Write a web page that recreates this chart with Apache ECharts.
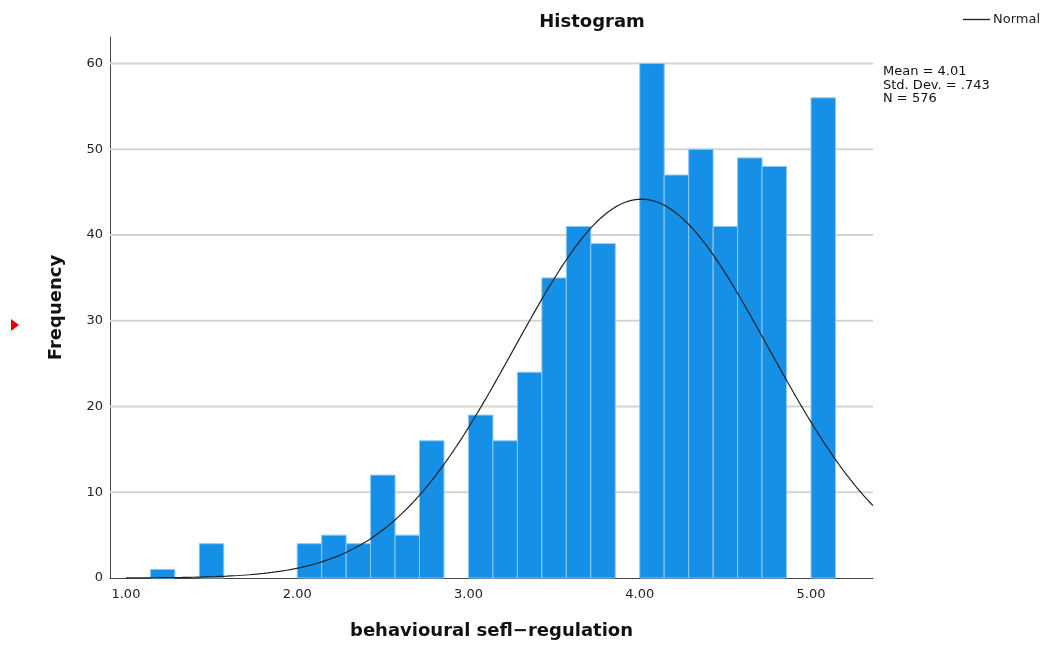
<!DOCTYPE html>
<html>
<head>
<meta charset="utf-8">
<script src="https://cdn.jsdelivr.net/npm/echarts@6/dist/echarts.min.js"></script>
<style>
  html, body { margin: 0; padding: 0; background: #fff; }
  #chart { width: 1048px; height: 648px; }
</style>
</head>
<body>
<div id="chart"></div>
<script>
// Histogram bins: first bin starts at 1.00, each bin is 1/7 wide
const binStart = 1;
const binWidth = 1 / 7;
const counts = [0, 1, 0, 4, 0, 0, 0, 4, 5, 4, 12, 5, 16, 0, 19, 16, 24, 35, 41, 39, 0, 60, 47, 50, 41, 49, 48, 0, 56];

// Summary statistics shown beside the plot
const mean = 4.01;
const stdDev = 0.743;
const n = 576;

const xTickValues = [1, 2, 3, 4, 5];
const xTickLabels = ['1.00', '2.00', '3.00', '4.00', '5.00'];
const yTickValues = [0, 10, 20, 30, 40, 50, 60];
const yGridValues = [10, 20, 30, 40, 50, 60];

const xMin = 0.907;
const xMax = 5.362;

// Bar data: [lower edge, upper edge, count]
const bars = counts.map((c, i) => [binStart + i * binWidth, binStart + (i + 1) * binWidth, c]);

// Fitted normal curve scaled to counts per bin
const curve = [];
for (let k = 0; k <= 400; k++) {
  const x = binStart + (xMax - binStart) * k / 400;
  const z = (x - mean) / stdDev;
  curve.push([x, n * binWidth / (stdDev * Math.sqrt(2 * Math.PI)) * Math.exp(-0.5 * z * z)]);
}

const font = '"DejaVu Sans", "Open Sans", sans-serif';
const chart = echarts.init(document.getElementById('chart'), null, { renderer: 'canvas' });

chart.setOption({
  animation: false,
  backgroundColor: '#fff',
  title: {
    text: 'Histogram',
    left: 587,
    top: 8,
    textAlign: 'center',
    textStyle: { fontFamily: font, fontSize: 18, fontWeight: 'bold', color: '#111' }
  },
  grid: { left: 110, right: 175, top: 37, bottom: 70, containLabel: false, outerBoundsMode: 'none' },
  xAxis: {
    type: 'value',
    min: xMin,
    max: xMax,
    name: 'behavioural sefl\u2212regulation',
    nameLocation: 'middle',
    nameGap: 44,
    nameTextStyle: { fontFamily: font, fontSize: 18, fontWeight: 'bold', color: '#111' },
    axisLine: { show: true, lineStyle: { color: '#444', width: 1 } },
    axisTick: { show: false },
    splitLine: { show: false },
    axisLabel: {
      customValues: xTickValues,
      formatter: v => xTickLabels[xTickValues.indexOf(Math.round(v))] || '',
      fontFamily: font, fontSize: 13, color: '#222', margin: 10
    }
  },
  yAxis: {
    type: 'value',
    min: 0,
    max: 63.1,
    name: 'Frequency',
    nameLocation: 'middle',
    nameGap: 45,
    nameRotate: 90,
    nameTextStyle: { fontFamily: font, fontSize: 18, fontWeight: 'bold', color: '#111' },
    axisLine: { show: true, lineStyle: { color: '#444', width: 1 } },
    axisTick: { show: false },
    axisLabel: {
      customValues: yTickValues,
      fontFamily: font, fontSize: 13, color: '#222', margin: 7
    },
    splitLine: { show: false }
  },
  legend: {
    data: [{ name: 'Normal', icon: 'path://M0,0 L30,0 L30,1.5 L0,1.5 Z' }],
    right: 3,
    top: 8,
    itemWidth: 27,
    itemHeight: 2,
    itemGap: 4,
    textStyle: { fontFamily: font, fontSize: 13, color: '#222', padding: [0, 0, 0, -2] }
  },
  graphic: [
    {
      type: 'text',
      left: 883,
      top: 65,
      style: {
        text: 'Mean = ' + mean.toFixed(2) + '\nStd. Dev. = ' + stdDev.toFixed(3).replace(/^0/, '') + '\nN = ' + n,
        font: '13px ' + font,
        lineHeight: 13.5,
        fill: '#111'
      }
    },
    {
      type: 'polygon',
      shape: { points: [[11, 319], [19, 325], [11, 331]] },
      style: { fill: '#e00000' }
    }
  ],
  series: [
    {
      // horizontal gridlines at the labelled frequencies, behind the bars
      type: 'custom',
      name: 'grid',
      data: yGridValues.map(v => [v]),
      z: 1,
      silent: true,
      encode: { y: 0 },
      renderItem: (params, api) => {
        const y = api.coord([xMin, api.value(0)])[1];
        const x0 = api.coord([xMin, 0])[0];
        const x1 = api.coord([xMax, 0])[0];
        return {
          type: 'line',
          shape: { x1: x0, y1: y, x2: x1, y2: y },
          style: { stroke: '#d4d4d4', lineWidth: 2 }
        };
      }
    },
    {
      type: 'custom',
      name: 'Frequency',
      data: bars,
      z: 2,
      renderItem: (params, api) => {
        const lo = api.coord([api.value(0), 0]);
        const hi = api.coord([api.value(1), api.value(2)]);
        if (api.value(2) <= 0) return null;
        return {
          type: 'rect',
          shape: { x: lo[0], y: hi[1], width: hi[0] - lo[0], height: lo[1] - hi[1] },
          style: { fill: '#1590e6', stroke: '#8cc8f4', lineWidth: 1 }
        };
      }
    },
    {
      type: 'line',
      name: 'Normal',
      data: curve,
      showSymbol: false,
      smooth: false,
      z: 3,
      lineStyle: { color: '#222', width: 1.2 },
      itemStyle: { color: '#222' }
    }
  ]
});
</script>
</body>
</html>
